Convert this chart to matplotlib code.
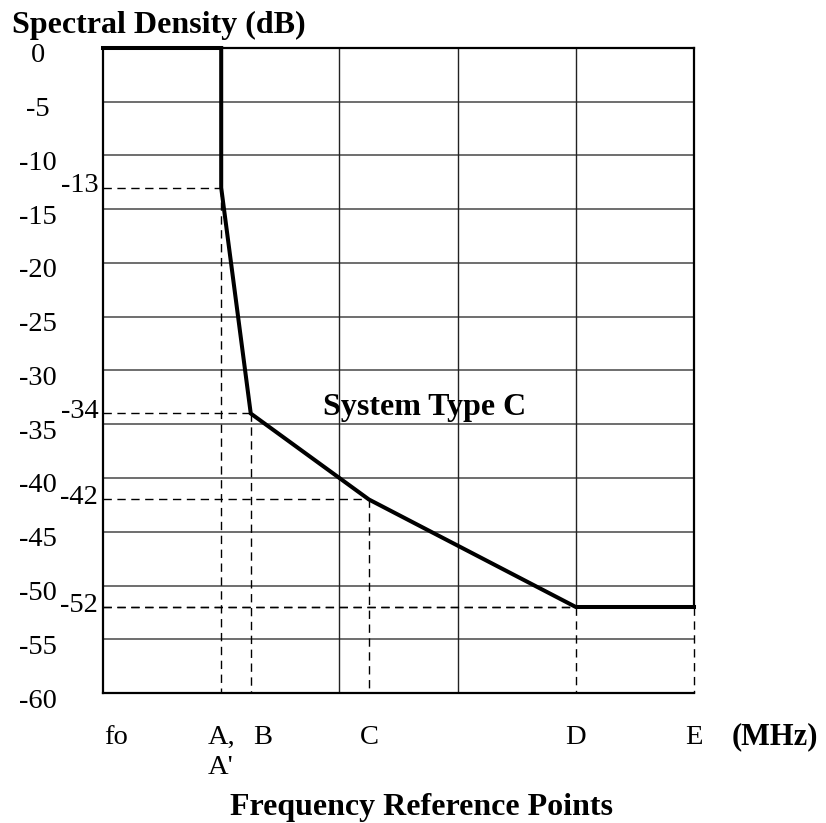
import matplotlib
matplotlib.use('Agg')
import matplotlib.pyplot as plt
from matplotlib.transforms import blended_transform_factory, offset_copy

plt.rcParams['font.family'] = ['Liberation Serif', 'DejaVu Serif']

# mask break points (x in reference-point units, y in dB)
freq_pts = [0, 1, 1, 1.25, 2.25, 4, 5]
level_db = [0, 0, -13, -34, -42, -52, -52]

# points that get dashed projection lines
proj_x = [1, 1.25, 2.25, 4, 5]
proj_y = [-13, -34, -42, -52, -52]

y_ticks = [0, -5, -10, -15, -20, -25, -30, -35, -40, -45, -50, -55, -60]
marked_levels = [-13, -34, -42, -52]

ref_names = ['fo', 'B', 'C', 'D', 'E']
ref_pos = [0.11, 1.35, 2.25, 4, 5]

fig = plt.figure(figsize=(8.26, 8.23), dpi=100)
ax = fig.add_axes([103/826, 130/823, 591/826, 645/823])
ax.set_xlim(0, 5)
ax.set_ylim(-60, 0)
ax.set_xticks([])
ax.set_yticks([])

for s in ['left', 'bottom', 'top']:
    ax.spines[s].set_linewidth(1.6)
ax.spines['right'].set_bounds(-52, 0)
ax.spines['right'].set_linewidth(1.6)

# grid
for y in y_ticks[1:-1]:
    ax.axhline(y, color='#555555', lw=1.2, zorder=1)
for x in [2, 3]:
    ax.axvline(x, color='#222222', lw=1.0, zorder=1)
ax.plot([4, 4], [-52, 0], color='#222222', lw=1.0, zorder=1)

# dashed projections
for x, y in zip(proj_x, proj_y):
    ax.plot([0, x], [y, y], color='black', lw=1.0, ls=(0, (6, 4)), zorder=2)
    ax.plot([x, x], [y, -60], color='black', lw=1.0, ls=(0, (6, 4)), zorder=2,
            clip_on=False)

# mask curve
ax.plot(freq_pts, level_db, color='black', lw=2.9, zorder=3, clip_on=False,
        solid_joinstyle='miter')

# y labels
tr = blended_transform_factory(ax.transAxes, ax.transData)
tr_down = offset_copy(tr, fig=fig, x=0, y=-8, units='dots')
for y in y_ticks:
    ax.text(-0.11, y, str(y), transform=tr_down, ha='center', va='center',
            fontsize=20.5)
tr_up = offset_copy(tr, fig=fig, x=0, y=2, units='dots')
for y in marked_levels:
    ax.text(-0.008, y, str(y), transform=tr_up, ha='right', va='center',
            fontsize=20.5)

# x labels
trx = blended_transform_factory(ax.transData, fig.transFigure)
for name, x in zip(ref_names, ref_pos):
    ax.text(x, 1 - 737/823, name, transform=trx, ha='center', va='center',
            fontsize=20.5)
ax.text(0.89, 1 - 737/823, 'A,', transform=trx, ha='left', va='center',
        fontsize=20.5)
ax.text(0.89, 1 - 768/823, "A'", transform=trx, ha='left', va='center',
        fontsize=20.5)

fig.text(775/826, 1 - 737/823, '(MHz)', ha='center', va='center',
         fontsize=22, fontweight='bold')
fig.text(421/826, 1 - 807/823, 'Frequency Reference Points', ha='center',
         va='center', fontsize=23, fontweight='bold')
fig.text(12/826, 1 - 25/823, 'Spectral Density (dB)', ha='left',
         va='center', fontsize=23, fontweight='bold')
ax.text(425/826, 1 - 407/823, 'System Type C', transform=fig.transFigure,
        ha='center', va='center', fontsize=23, fontweight='bold')

fig.savefig('out.png', dpi=100)
